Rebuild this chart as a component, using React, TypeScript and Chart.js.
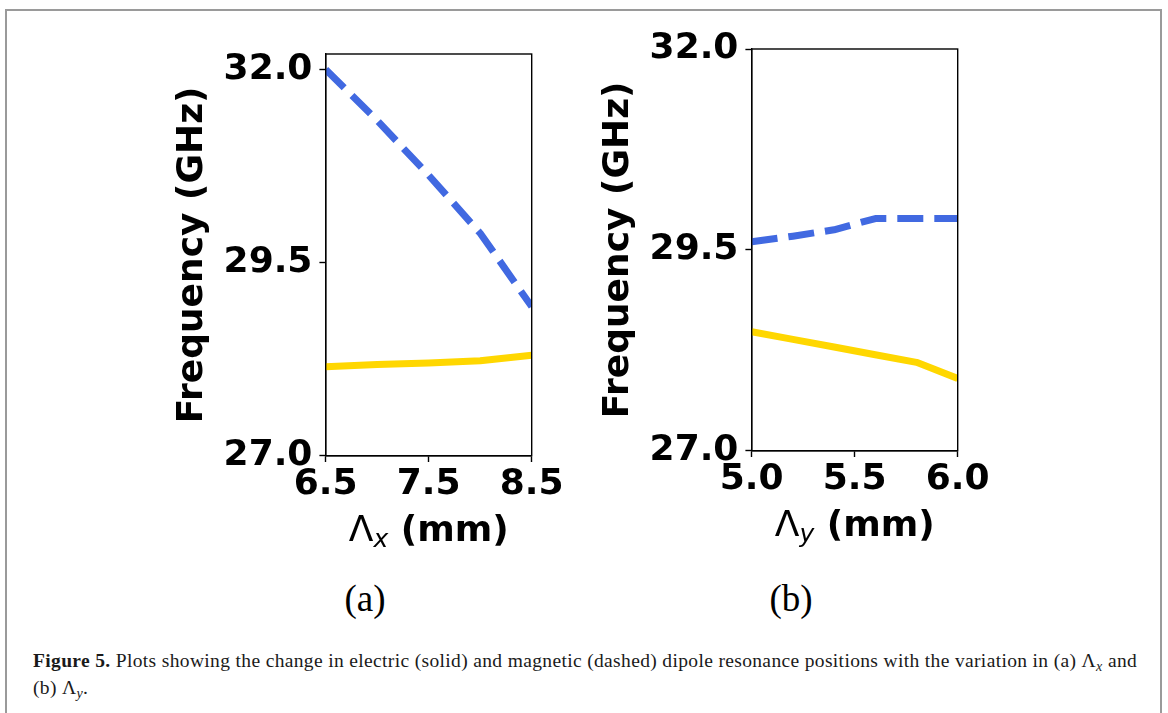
import React, { useEffect, useRef } from "react";
import { Chart, registerables } from "chart.js";

Chart.register(...registerables);

// ---------- data ----------
const lambdaX = [6.5, 7.0, 7.5, 8.0, 8.5];
const magneticA = [32.0, 31.34, 30.63, 29.88, 28.93];
const electricA = [28.15, 28.18, 28.2, 28.23, 28.3];

const lambdaY = [5.0, 5.2, 5.4, 5.6, 5.8, 6.0];
const magneticB = [29.6, 29.67, 29.75, 29.89, 29.89, 29.89];
const electricB = [28.48, 28.385, 28.29, 28.195, 28.1, 27.9];

const xTicksA = [6.5, 7.5, 8.5];
const xTicksB = [5.0, 5.5, 6.0];
const yTicks = [27.0, 29.5, 32.0];

const yTitle = "Frequency (GHz)";
const xSymbol = "\u039B";
const xUnit = " (mm)";

const BLUE = "#4169E1";
const GOLD = "#FFD700";
const FONT = '"DejaVu Sans", sans-serif';

type PanelParams = {
  xs: number[];
  magnetic: number[];
  electric: number[];
  xTicks: number[];
  xMin: number;
  xMax: number;
  yMin: number;
  yMax: number;
  sub: string;
  yAxisW: number;
  xAxisH: number;
  padTop: number;
  padRight: number;
  yTitlePad: number;
};

const framePlugin = {
  id: "frame",
  afterDatasetsDraw(chart: any) {
    const { ctx, chartArea: a } = chart;
    ctx.save();
    ctx.strokeStyle = "#000";
    ctx.lineWidth = 1.4;
    ctx.strokeRect(a.left, a.top, a.right - a.left, a.bottom - a.top);
    ctx.restore();
  },
};

const makeXLabelPlugin = (sub: string) => ({
  id: "xlabel",
  afterDraw(chart: any) {
    const { ctx, chartArea: a } = chart;
    const base = a.bottom + 85;
    const fSym = `36px ${FONT}`;
    const fSub = `italic 25px ${FONT}`;
    const fUnit = `bold 36px ${FONT}`;
    ctx.save();
    ctx.fillStyle = "#000";
    ctx.textBaseline = "alphabetic";
    ctx.textAlign = "left";
    ctx.font = fSym;
    const w1 = ctx.measureText(xSymbol).width;
    ctx.font = fSub;
    const w2 = ctx.measureText(sub).width;
    ctx.font = fUnit;
    const w3 = ctx.measureText(xUnit).width;
    let x = (a.left + a.right) / 2 - (w1 + w2 + w3) / 2;
    ctx.font = fSym;
    ctx.fillText(xSymbol, x, base);
    x += w1;
    ctx.font = fSub;
    ctx.fillText(sub, x, base + 6);
    x += w2;
    ctx.font = fUnit;
    ctx.fillText(xUnit, x, base);
    ctx.restore();
  },
});

function buildChart(canvas: HTMLCanvasElement, p: PanelParams) {
  const pts = (xs: number[], ys: number[]) => xs.map((x, i) => ({ x, y: ys[i] }));
  const tickFont = { family: FONT, size: 36, weight: "bold" as const };
  return new Chart(canvas, {
    type: "line",
    data: {
      datasets: [
        {
          data: pts(p.xs, p.magnetic),
          borderColor: BLUE,
          borderWidth: 7,
          borderDash: [26, 11],
          borderJoinStyle: "round",
          pointRadius: 0,
          tension: 0,
          fill: false,
          clip: 0,
        },
        {
          data: pts(p.xs, p.electric),
          borderColor: GOLD,
          borderWidth: 7,
          borderJoinStyle: "round",
          pointRadius: 0,
          tension: 0,
          fill: false,
          clip: 0,
        },
      ],
    } as any,
    options: {
      responsive: false,
      maintainAspectRatio: false,
      animation: false,
      events: [],
      layout: { padding: { left: 0, top: p.padTop, right: p.padRight, bottom: 0 } },
      plugins: { legend: { display: false }, tooltip: { enabled: false } },
      scales: {
        x: {
          type: "linear",
          min: p.xMin,
          max: p.xMax,
          afterBuildTicks: (s: any) => {
            s.ticks = p.xTicks.map((v) => ({ value: v }));
          },
          afterFit: (s: any) => {
            s.height = p.xAxisH;
            s.paddingLeft = 0;
            s.paddingRight = 0;
            s.paddingTop = 0;
            s.paddingBottom = 0;
          },
          ticks: {
            callback: (v: any) => Number(v).toFixed(1),
            font: tickFont,
            color: "#000",
            padding: 1,
            maxRotation: 0,
            minRotation: 0,
            autoSkip: false,
          },
          grid: {
            drawOnChartArea: false,
            drawTicks: true,
            tickLength: 6.3,
            tickWidth: 1.4,
            tickColor: "#000",
          },
          border: { color: "#000", width: 1.4 },
        },
        y: {
          type: "linear",
          min: p.yMin,
          max: p.yMax,
          afterBuildTicks: (s: any) => {
            s.ticks = yTicks.map((v) => ({ value: v }));
          },
          afterFit: (s: any) => {
            s.width = p.yAxisW;
            s.paddingLeft = 0;
            s.paddingRight = 0;
            s.paddingTop = 0;
            s.paddingBottom = 0;
          },
          ticks: {
            callback: (v: any) => Number(v).toFixed(1),
            font: tickFont,
            color: "#000",
            padding: 7,
            autoSkip: false,
          },
          grid: {
            drawOnChartArea: false,
            drawTicks: true,
            tickLength: 6.3,
            tickWidth: 1.4,
            tickColor: "#000",
          },
          border: { color: "#000", width: 1.4 },
          title: {
            display: true,
            text: yTitle,
            color: "#000",
            font: { family: FONT, size: 36, weight: "bold" },
            padding: { top: p.yTitlePad, bottom: 0 },
          },
        },
      },
    } as any,
    plugins: [framePlugin, makeXLabelPlugin(p.sub)],
  });
}

const CW = 430;
const CH = 540;

const panelA: PanelParams = {
  xs: lambdaX,
  magnetic: magneticA,
  electric: electricA,
  xTicks: xTicksA,
  xMin: 6.5,
  xMax: 8.5,
  yMin: 27,
  yMax: 32.2,
  sub: "x",
  yAxisW: 175.7,
  xAxisH: CH - 435.7,
  padTop: 34,
  padRight: CW - 381.7,
  yTitlePad: 21.4,
};

const panelB: PanelParams = {
  xs: lambdaY,
  magnetic: magneticB,
  electric: electricB,
  xTicks: xTicksB,
  xMin: 5.0,
  xMax: 6.0,
  yMin: 27,
  yMax: 32,
  sub: "y",
  yAxisW: 171.7,
  xAxisH: CH - 430.7,
  padTop: 29,
  padRight: CW - 377.7,
  yTitlePad: 17.4,
};

function Panel({ left, top, params }: { left: number; top: number; params: PanelParams }) {
  const ref = useRef<HTMLCanvasElement>(null);
  useEffect(() => {
    const chart = buildChart(ref.current as HTMLCanvasElement, params);
    return () => chart.destroy();
  }, []);
  return (
    <canvas
      ref={ref}
      width={CW}
      height={CH}
      style={{ position: "absolute", left, top, width: CW, height: CH }}
    />
  );
}

const Sub = ({ children }: { children: React.ReactNode }) => (
  <span style={{ fontStyle: "italic", fontSize: "0.72em", position: "relative", top: "0.3em" }}>
    {children}
  </span>
);

export default function App() {
  return (
    <div
      style={{
        position: "fixed",
        left: 0,
        top: 0,
        width: 1168,
        height: 713,
        background: "#fff",
        overflow: "hidden",
      }}
    >
      <div
        style={{
          position: "absolute",
          left: 5,
          top: 9,
          width: 1157,
          height: 730,
          border: "2px solid #9a9a9a",
          boxSizing: "border-box",
        }}
      />
      <Panel left={150} top={20} params={panelA} />
      <Panel left={580} top={20} params={panelB} />
      <div
        style={{
          position: "absolute",
          left: 315,
          top: 580,
          width: 100,
          textAlign: "center",
          fontFamily: '"Liberation Serif", serif',
          fontSize: 37,
          lineHeight: "37px",
          color: "#000",
        }}
      >
        (a)
      </div>
      <div
        style={{
          position: "absolute",
          left: 741,
          top: 580,
          width: 100,
          textAlign: "center",
          fontFamily: '"Liberation Serif", serif',
          fontSize: 37,
          lineHeight: "37px",
          color: "#000",
        }}
      >
        (b)
      </div>
      <div
        style={{
          position: "absolute",
          left: 33,
          top: 648,
          fontFamily: '"Liberation Serif", serif',
          fontSize: 19.5,
          letterSpacing: "0.35px",
          lineHeight: "25px",
          whiteSpace: "nowrap",
          color: "#1a1a1a",
        }}
      >
        <b>Figure 5.</b> Plots showing the change in electric (solid) and magnetic (dashed) dipole
        resonance positions with the variation in (a) {"\u039B"}
        <Sub>x</Sub> and
        <br />
        (b) {"\u039B"}
        <Sub>y</Sub>.
      </div>
    </div>
  );
}
